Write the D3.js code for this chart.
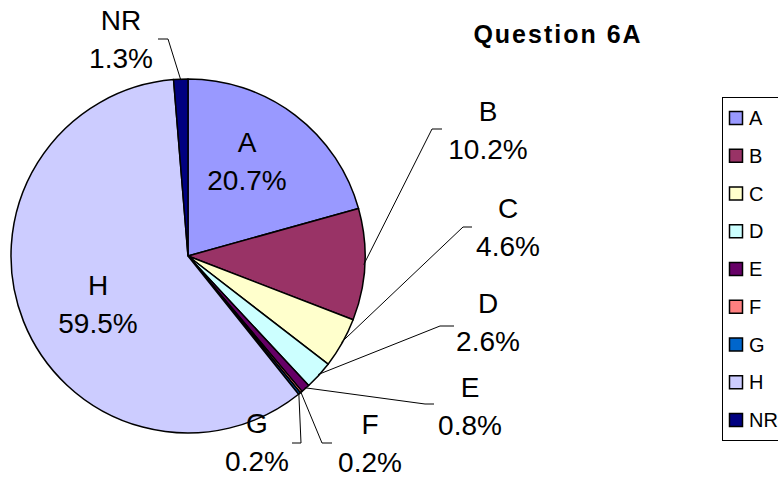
<!DOCTYPE html>
<html>
<head>
<meta charset="utf-8">
<script src="https://cdn.jsdelivr.net/npm/d3@7/dist/d3.min.js"></script>
<style>
  html, body { margin: 0; padding: 0; background: #fff; }
  svg { display: block; font-family: Arial, "Liberation Sans", sans-serif; }
</style>
</head>
<body>
<svg id="chart" width="778" height="478"></svg>
<script>
// Answer categories and their shares (%) for Question 6A
const categories = ["A", "B", "C", "D", "E", "F", "G", "H", "NR"];
const shares = [20.7, 10.2, 4.6, 2.6, 0.8, 0.2, 0.2, 59.5, 1.3];
const colors = ["#9999FF", "#993366", "#FFFFCC", "#CCFFFF", "#660066", "#FF8080", "#0066CC", "#CCCCFF", "#000080"];
const title = "Question 6A";

// Label placement: inside labels sit at a point, outside labels get a leader line with an elbow
const labelLayout = {
  A:  { x: 247, y: 152, inside: true },
  H:  { x: 98,  y: 295, inside: true },
  B:  { x: 488, y: 121, elbow: [432, 129], end: [442, 129] },
  C:  { x: 508, y: 218, elbow: [463, 227], end: [472, 227] },
  D:  { x: 488, y: 313, elbow: [440, 326], end: [454, 326] },
  E:  { x: 470, y: 397, elbow: [425, 404], end: [434, 404] },
  F:  { x: 370, y: 434, elbow: [322, 443], end: [332, 443] },
  G:  { x: 257, y: 433, elbow: [301, 443], end: [292, 443] },
  NR: { x: 121, y: 30,  elbow: [168, 39],  end: [158, 39] }
};

const svg = d3.select("#chart");
const cx = 188, cy = 256, r = 177;

const data = categories.map((c, i) => ({ cat: c, value: shares[i], color: colors[i] }));
const pie = d3.pie().sort(null).value(d => d.value).startAngle(0).endAngle(2 * Math.PI);
const arcs = pie(data);
const arc = d3.arc().innerRadius(0).outerRadius(r);

const g = svg.append("g").attr("transform", `translate(${cx},${cy})`);

g.selectAll("path.slice")
  .data(arcs)
  .enter().append("path")
  .attr("class", "slice")
  .attr("d", arc)
  .attr("fill", d => d.data.color)
  .attr("stroke", "#000")
  .attr("stroke-width", 1.5)
  .attr("stroke-linejoin", "round");

// Leader lines for the small outside-labelled slices
const edgePoint = (a, rad) => {
  const m = (a.startAngle + a.endAngle) / 2;
  return [cx + rad * Math.sin(m), cy - rad * Math.cos(m)];
};
const line = d3.line();
arcs.forEach(a => {
  const L = labelLayout[a.data.cat];
  if (L.inside) return;
  const p0 = edgePoint(a, r - 1);
  svg.append("path")
    .attr("d", line([p0, L.elbow, L.end]))
    .attr("fill", "none")
    .attr("stroke", "#000")
    .attr("stroke-width", 1);
});

// Category name and percentage labels
const fmt = v => v.toFixed(1) + "%";
arcs.forEach(a => {
  const L = labelLayout[a.data.cat];
  const t = svg.append("text")
    .attr("x", L.x).attr("y", L.y)
    .attr("text-anchor", "middle")
    .attr("font-size", 28)
    .attr("fill", "#000");
  t.append("tspan").attr("x", L.x).attr("y", L.y).text(a.data.cat);
  t.append("tspan").attr("x", L.x).attr("y", L.y + 38).text(fmt(a.data.value));
});

// Title
svg.append("text")
  .attr("x", 558).attr("y", 43)
  .attr("text-anchor", "middle")
  .attr("font-size", 25)
  .attr("font-weight", "bold")
  .attr("letter-spacing", 2)
  .text(title);

// Legend
const legend = svg.append("g");
legend.append("rect")
  .attr("x", 722.5).attr("y", 97.5)
  .attr("width", 70).attr("height", 343)
  .attr("fill", "#fff").attr("stroke", "#000").attr("stroke-width", 1);

const legY = d3.scalePoint().domain(categories).range([118, 420]);
const items = legend.selectAll("g.item").data(data).enter().append("g").attr("class", "item")
  .attr("transform", d => `translate(0,${legY(d.cat)})`);
items.append("rect")
  .attr("x", 729.5).attr("y", -6.5).attr("width", 13).attr("height", 13)
  .attr("fill", d => d.color).attr("stroke", "#000").attr("stroke-width", 1.5);
items.append("text")
  .attr("x", 749).attr("y", 7)
  .attr("font-size", 20)
  .text(d => d.cat);
</script>
</body>
</html>
